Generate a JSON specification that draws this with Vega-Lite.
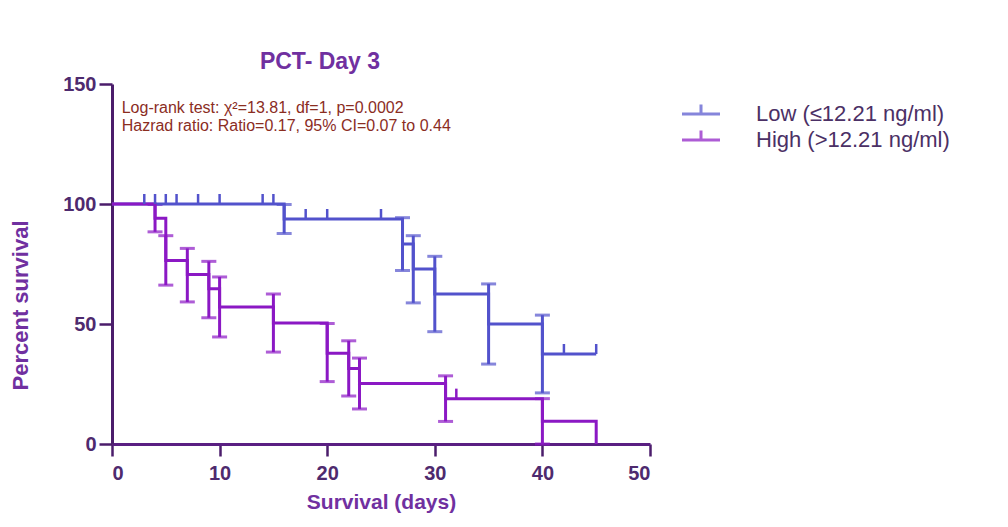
{
  "$schema": "https://vega.github.io/schema/vega-lite/v6.json",
  "width": 538,
  "height": 360,
  "autosize": {"type": "none"},
  "padding": {"left": 112, "top": 84, "right": 358, "bottom": 83},
  "background": "white",
  "config": {
    "view": {"stroke": null},
    "font": "Liberation Sans"
  },
  "title": {
    "text": "PCT- Day 3",
    "fontSize": 23,
    "fontWeight": "bold",
    "color": "#7030A0",
    "font": "Liberation Sans",
    "anchor": "middle",
    "dx": -61,
    "offset": 0
  },
  "datasets": {
    "curve": [
      {"g": "Low (≤12.21 ng/ml)", "day": 0, "s": 100},
      {"g": "Low (≤12.21 ng/ml)", "day": 16, "s": 93.75},
      {"g": "Low (≤12.21 ng/ml)", "day": 27, "s": 83.3},
      {"g": "Low (≤12.21 ng/ml)", "day": 28, "s": 72.9},
      {"g": "Low (≤12.21 ng/ml)", "day": 30, "s": 62.5},
      {"g": "Low (≤12.21 ng/ml)", "day": 35, "s": 50},
      {"g": "Low (≤12.21 ng/ml)", "day": 40, "s": 37.5},
      {"g": "Low (≤12.21 ng/ml)", "day": 45, "s": 37.5},
      {"g": "High (>12.21 ng/ml)", "day": 0, "s": 100},
      {"g": "High (>12.21 ng/ml)", "day": 4, "s": 94.1},
      {"g": "High (>12.21 ng/ml)", "day": 5, "s": 76.5},
      {"g": "High (>12.21 ng/ml)", "day": 7, "s": 70.6},
      {"g": "High (>12.21 ng/ml)", "day": 9, "s": 64.7},
      {"g": "High (>12.21 ng/ml)", "day": 10, "s": 57.1},
      {"g": "High (>12.21 ng/ml)", "day": 15, "s": 50.4},
      {"g": "High (>12.21 ng/ml)", "day": 20, "s": 37.8},
      {"g": "High (>12.21 ng/ml)", "day": 22, "s": 31.5},
      {"g": "High (>12.21 ng/ml)", "day": 23, "s": 25.2},
      {"g": "High (>12.21 ng/ml)", "day": 31, "s": 18.9},
      {"g": "High (>12.21 ng/ml)", "day": 40, "s": 9.45},
      {"g": "High (>12.21 ng/ml)", "day": 45, "s": 0}
    ],
    "err": [
      {"g": "Low (≤12.21 ng/ml)", "day": 16, "lo": 87.7, "hi": 99.8},
      {"g": "Low (≤12.21 ng/ml)", "day": 27, "lo": 72.3, "hi": 94.3},
      {"g": "Low (≤12.21 ng/ml)", "day": 28, "lo": 58.8, "hi": 86.8},
      {"g": "Low (≤12.21 ng/ml)", "day": 30, "lo": 46.8, "hi": 78.2},
      {"g": "Low (≤12.21 ng/ml)", "day": 35, "lo": 33.3, "hi": 66.7},
      {"g": "Low (≤12.21 ng/ml)", "day": 40, "lo": 21.3, "hi": 53.7},
      {"g": "High (>12.21 ng/ml)", "day": 4, "lo": 88.4, "hi": 99.8},
      {"g": "High (>12.21 ng/ml)", "day": 5, "lo": 66.2, "hi": 86.8},
      {"g": "High (>12.21 ng/ml)", "day": 7, "lo": 59.2, "hi": 81.5},
      {"g": "High (>12.21 ng/ml)", "day": 9, "lo": 52.6, "hi": 76.1},
      {"g": "High (>12.21 ng/ml)", "day": 10, "lo": 44.6, "hi": 69.6},
      {"g": "High (>12.21 ng/ml)", "day": 15, "lo": 38.3, "hi": 62.5},
      {"g": "High (>12.21 ng/ml)", "day": 20, "lo": 26.0, "hi": 50.2},
      {"g": "High (>12.21 ng/ml)", "day": 22, "lo": 20.0, "hi": 43.0},
      {"g": "High (>12.21 ng/ml)", "day": 23, "lo": 14.6, "hi": 35.8},
      {"g": "High (>12.21 ng/ml)", "day": 31, "lo": 9.4, "hi": 28.4},
      {"g": "High (>12.21 ng/ml)", "day": 40, "lo": 0, "hi": 18.9}
    ],
    "cens": [
      {"g": "Low (≤12.21 ng/ml)", "day": 3, "s": 100},
      {"g": "Low (≤12.21 ng/ml)", "day": 4, "s": 100},
      {"g": "Low (≤12.21 ng/ml)", "day": 5, "s": 100},
      {"g": "Low (≤12.21 ng/ml)", "day": 6, "s": 100},
      {"g": "Low (≤12.21 ng/ml)", "day": 8, "s": 100},
      {"g": "Low (≤12.21 ng/ml)", "day": 10, "s": 100},
      {"g": "Low (≤12.21 ng/ml)", "day": 14, "s": 100},
      {"g": "Low (≤12.21 ng/ml)", "day": 15, "s": 100},
      {"g": "Low (≤12.21 ng/ml)", "day": 18, "s": 93.75},
      {"g": "Low (≤12.21 ng/ml)", "day": 20, "s": 93.75},
      {"g": "Low (≤12.21 ng/ml)", "day": 25, "s": 93.75},
      {"g": "Low (≤12.21 ng/ml)", "day": 42, "s": 37.5},
      {"g": "Low (≤12.21 ng/ml)", "day": 45, "s": 37.5},
      {"g": "High (>12.21 ng/ml)", "day": 32, "s": 18.9}
    ]
  },
  "layer": [
    {
      "data": {"name": "err"},
      "mark": {"type": "rule", "strokeWidth": 3},
      "encoding": {
        "x": {"field": "day", "type": "quantitative", "scale": {"domain": [0, 50], "nice": false}},
        "y": {"field": "lo", "type": "quantitative", "scale": {"domain": [0, 150], "nice": false}},
        "y2": {"field": "hi"},
        "color": {"field": "g", "type": "nominal"}
      }
    },
    {
      "data": {"name": "err"},
      "transform": [{"fold": ["lo", "hi"], "as": ["end", "v"]}],
      "mark": {"type": "tick", "orient": "horizontal", "size": 15, "thickness": 3},
      "encoding": {
        "x": {"field": "day", "type": "quantitative"},
        "y": {"field": "v", "type": "quantitative"},
        "color": {"field": "g", "type": "nominal"}
      }
    },
    {
      "data": {"name": "curve"},
      "mark": {"type": "line", "interpolate": "step-after", "strokeWidth": 3},
      "encoding": {
        "x": {
          "field": "day", "type": "quantitative",
          "axis": {
            "title": "Survival (days)",
            "values": [0, 10, 20, 30, 40, 50],
            "grid": false,
            "domainColor": "#5A1F82", "domainWidth": 3,
            "tickColor": "#4B1D6B", "tickWidth": 2.5, "tickSize": 12,
            "labelFont": "Liberation Sans", "labelFontSize": 20, "labelFontWeight": "bold",
            "labelColor": "#4E2A6E", "labelPadding": 7,
            "titleFont": "Liberation Sans", "titleFontSize": 21, "titleFontWeight": "bold",
            "titleColor": "#7030A0", "titleBaseline": "middle", "titleY": 58
          }
        },
        "y": {
          "field": "s", "type": "quantitative",
          "axis": {
            "title": "Percent survival",
            "values": [0, 50, 100, 150],
            "grid": false,
            "domainColor": "#4B1D6B", "domainWidth": 3,
            "tickColor": "#4B1D6B", "tickWidth": 2.5, "tickSize": 13,
            "labelFont": "Liberation Sans", "labelFontSize": 20, "labelFontWeight": "bold",
            "labelColor": "#4E2A6E", "labelPadding": 3,
            "titleFont": "Liberation Sans", "titleFontSize": 22, "titleFontWeight": "bold",
            "titleColor": "#7030A0", "titleAngle": -90, "titleBaseline": "bottom",
            "titleX": -80, "titleY": 221
          }
        },
        "color": {
          "field": "g", "type": "nominal",
          "scale": {
            "domain": ["Low (≤12.21 ng/ml)", "High (>12.21 ng/ml)"],
            "range": ["#5252CC", "#8B18C4"]
          },
          "legend": {
            "title": null,
            "orient": "none",
            "legendX": 578,
            "legendY": 19,
            "padding": 0,
            "symbolType": "M-2,0H2M0,0V-1",
            "symbolSize": 361,
            "symbolStrokeWidth": 3,
            "symbolOpacity": 1,
            "symbolFillColor": "transparent",
            "labelFont": "Liberation Sans",
            "labelFontSize": 22,
            "labelLimit": 0,
            "labelColor": "#4B3065",
            "labelOffset": 44,
            "rowPadding": -1
          }
        }
      }
    },
    {
      "data": {"name": "cens"},
      "mark": {"type": "point", "shape": "M0,0V-1", "size": 400, "strokeWidth": 2.5, "filled": false, "opacity": 1},
      "encoding": {
        "x": {"field": "day", "type": "quantitative"},
        "y": {"field": "s", "type": "quantitative"},
        "color": {"field": "g", "type": "nominal"}
      }
    },
    {
      "data": {"values": [{"t": "Log-rank test: χ²=13.81, df=1, p=0.0002"}]},
      "mark": {"type": "text", "align": "left", "baseline": "middle", "fontSize": 16, "font": "Liberation Sans", "color": "#8B2D1F"},
      "encoding": {
        "x": {"datum": 0.9, "type": "quantitative"},
        "y": {"datum": 140, "type": "quantitative"},
        "text": {"field": "t"}
      }
    },
    {
      "data": {"values": [{"t": "Hazrad ratio: Ratio=0.17, 95% CI=0.07 to 0.44"}]},
      "mark": {"type": "text", "align": "left", "baseline": "middle", "fontSize": 16, "font": "Liberation Sans", "color": "#8B2D1F"},
      "encoding": {
        "x": {"datum": 0.9, "type": "quantitative"},
        "y": {"datum": 132.5, "type": "quantitative"},
        "text": {"field": "t"}
      }
    }
  ]
}
